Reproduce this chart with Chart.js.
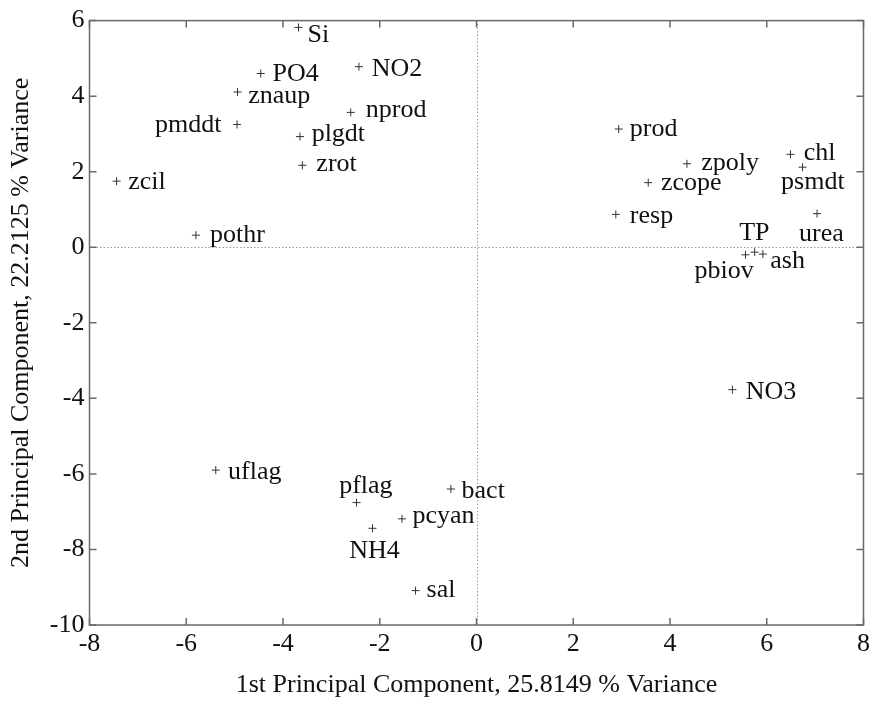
<!DOCTYPE html>
<html>
<head>
<meta charset="utf-8">
<script src="https://cdn.jsdelivr.net/npm/chart.js@4/dist/chart.umd.min.js"></script>
<style>
    body { margin: 0; background: #fff; }
    canvas { display: block; }
</style>
</head>
<body>
<canvas id="pcaChart" width="874" height="701"></canvas>
<script>
const variables = [
    'Si', 'PO4', 'NO2', 'znaup', 'nprod', 'pmddt', 'plgdt', 'zrot', 'zcil', 'pothr',
    'prod', 'zpoly', 'zcope', 'resp', 'chl', 'psmdt', 'urea', 'TP', 'pbiov', 'ash',
    'NO3', 'uflag', 'pflag', 'bact', 'pcyan', 'NH4', 'sal'
];
const pc1 = [
    -3.68, -4.46, -2.43, -4.94, -2.60, -4.95, -3.65, -3.60, -7.44, -5.80,
    2.94, 4.35, 3.55, 2.88, 6.49, 6.74, 7.04, 5.75, 5.56, 5.92,
    5.29, -5.39, -2.48, -0.53, -1.54, -2.15, -1.26
];
const pc2 = [
    5.82, 4.60, 4.78, 4.11, 3.57, 3.25, 2.93, 2.17, 1.75, 0.32,
    3.13, 2.21, 1.71, 0.87, 2.46, 2.12, 0.89, -0.13, -0.20, -0.18,
    -3.77, -5.90, -6.76, -6.40, -7.19, -7.44, -9.09
];
const xTicks = [-8, -6, -4, -2, 0, 2, 4, 6, 8];
const yTicks = [-10, -8, -6, -4, -2, 0, 2, 4, 6];

// label placement around each '+' (dx, baseline dy, align), in px
const labelPos = {
    Si: [9, 14.6, 'left'], PO4: [11.7, 8, 'left'], NO2: [12.7, 9.4, 'left'],
    znaup: [10.6, 10.6, 'left'], nprod: [15, 5, 'left'], pmddt: [-15.6, 7.6, 'right'],
    plgdt: [11.7, 4.7, 'left'], zrot: [14, 5.7, 'left'], zcil: [11.6, 7.7, 'left'],
    pothr: [14, 6.7, 'left'], prod: [11, 6.7, 'left'], zpoly: [14.4, 6.7, 'left'],
    zcope: [12.7, 7, 'left'], resp: [14, 8.3, 'left'], chl: [13.3, 5.3, 'left'],
    psmdt: [10.3, 21.7, 'center'], urea: [4.4, 27.3, 'center'], TP: [-0.3, -11.7, 'center'],
    pbiov: [8.3, 23.3, 'right'], ash: [7.4, 14.3, 'left'], NO3: [13.3, 9.4, 'left'],
    uflag: [12.3, 9, 'left'], pflag: [-17.4, -9.3, 'left'], bact: [10.7, 9.4, 'left'],
    pcyan: [10.4, 4.4, 'left'], NH4: [2, 30, 'center'], sal: [11, 6.7, 'left']
};

const serif = '"Liberation Serif", "DejaVu Serif", serif';

// axes box, inward ticks and the dotted zero lines
const boxPlugin = {
    id: 'box',
    beforeDatasetsDraw(chart) {
        const {ctx, chartArea: a, scales: {x, y}} = chart;
        ctx.save();
        ctx.strokeStyle = '#9a9a9a';
        ctx.lineWidth = 1;
        ctx.setLineDash([1.5, 2]);
        const x0 = Math.round(x.getPixelForValue(0)) + 0.5;
        const y0 = Math.round(y.getPixelForValue(0)) + 0.5;
        ctx.beginPath();
        ctx.moveTo(x0, a.top); ctx.lineTo(x0, a.bottom);
        ctx.moveTo(a.left, y0); ctx.lineTo(a.right, y0);
        ctx.stroke();
        ctx.restore();
    },
    afterDraw(chart) {
        const {ctx, chartArea: a, scales: {x, y}} = chart;
        const len = 7;
        ctx.save();
        ctx.strokeStyle = '#6a6a6a';
        ctx.lineWidth = 1.5;
        ctx.strokeRect(a.left, a.top, a.right - a.left, a.bottom - a.top);
        ctx.beginPath();
        xTicks.forEach(v => {
            const px = x.getPixelForValue(v);
            ctx.moveTo(px, a.bottom); ctx.lineTo(px, a.bottom - len);
            ctx.moveTo(px, a.top); ctx.lineTo(px, a.top + len);
        });
        yTicks.forEach(v => {
            const py = y.getPixelForValue(v);
            ctx.moveTo(a.left, py); ctx.lineTo(a.left + len, py);
            ctx.moveTo(a.right, py); ctx.lineTo(a.right - len, py);
        });
        ctx.stroke();
        ctx.restore();
    }
};

// variable names next to their markers
const namePlugin = {
    id: 'names',
    afterDatasetsDraw(chart) {
        const {ctx} = chart;
        const meta = chart.getDatasetMeta(0);
        ctx.save();
        ctx.font = '26px ' + serif;
        ctx.fillStyle = '#111';
        ctx.textBaseline = 'alphabetic';
        meta.data.forEach((pt, i) => {
            const p = labelPos[variables[i]] || [12, 8, 'left'];
            ctx.textAlign = p[2];
            ctx.fillText(variables[i], pt.x + p[0], pt.y + p[1]);
        });
        ctx.restore();
    }
};

const points = pc1.map((v, i) => ({x: v, y: pc2[i]}));

new Chart(document.getElementById('pcaChart'), {
    type: 'scatter',
    data: {
        datasets: [{
            label: 'loadings',
            data: points,
            pointStyle: 'cross',
            pointRadius: 4,
            pointBorderWidth: 1,
            borderColor: '#333',
            backgroundColor: '#333'
        }]
    },
    options: {
        responsive: false,
        animation: false,
        layout: { padding: { top: 16, right: 10, left: 0, bottom: 0 } },
        plugins: {
            legend: { display: false },
            tooltip: { enabled: false }
        },
        scales: {
            x: {
                type: 'linear',
                min: -8,
                max: 8,
                afterFit(scale) { scale.height = 76; },
                afterBuildTicks(scale) { scale.ticks = xTicks.map(v => ({value: v})); },
                grid: { display: false, drawTicks: false },
                border: { display: false },
                ticks: { color: '#111', padding: 4, font: { family: serif, size: 26 } },
                title: {
                    display: true,
                    text: '1st Principal Component, 25.8149 % Variance',
                    color: '#111',
                    padding: { top: 0, bottom: 0 },
                    font: { family: serif, size: 26 }
                }
            },
            y: {
                type: 'linear',
                min: -10,
                max: 6,
                afterFit(scale) { scale.width = 89.5; },
                afterBuildTicks(scale) { scale.ticks = yTicks.map(v => ({value: v})); },
                grid: { display: false, drawTicks: false },
                border: { display: false },
                ticks: { color: '#111', padding: 5, font: { family: serif, size: 26 } },
                title: {
                    display: true,
                    text: '2nd Principal Component, 22.2125 % Variance',
                    color: '#111',
                    padding: { top: 6, bottom: 0 },
                    font: { family: serif, size: 26 }
                }
            }
        }
    },
    plugins: [boxPlugin, namePlugin]
});
</script>
</body>
</html>
